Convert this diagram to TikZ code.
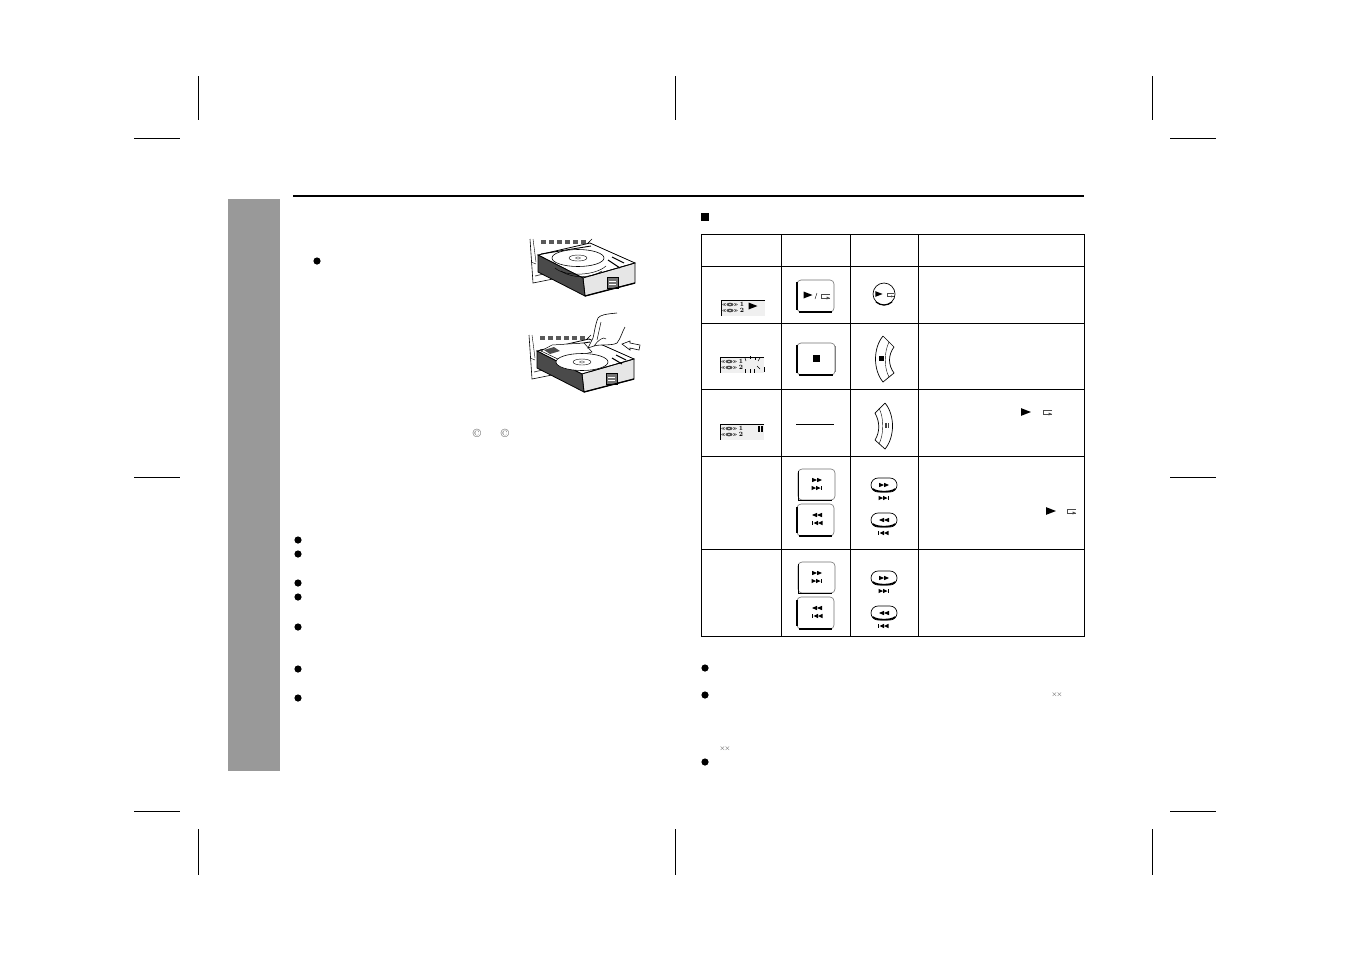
\documentclass[tikz,border=0pt]{standalone}
\usepackage{amsmath,amssymb}
\usepackage{tikz}
\usetikzlibrary{calc}

\definecolor{bandgray}{HTML}{999999}
\definecolor{lcdgray}{HTML}{F0F0F0}
\definecolor{trayfront}{HTML}{E6E6E6}
\definecolor{trayside}{HTML}{4A4A4A}

\tikzset{
  cropline/.style={line width=0.8pt},
  gridline/.style={line width=1pt},
  keyline/.style={line width=0.6pt,rounded corners=4pt,draw=black!55},
  lcdtext/.style={font=\bfseries\fontsize{6.5}{7}\selectfont,inner sep=0pt},
  marktext/.style={font=\fontsize{12}{12}\selectfont,inner sep=0pt,text=black!70},
  xxtext/.style={font=\fontsize{7.5}{8}\selectfont,inner sep=0pt,text=black!75},
  playtip/.pic={\fill (-4.5,-3.5) -- (4.5,0) -- (-4.5,3.5) -- cycle;},
  smalltip/.pic={\fill (-5,-2.2) -- (0,0) -- (-5,2.2) -- cycle;
    \fill (0,-2.2) -- (5,0) -- (0,2.2) -- cycle;},
  endtip/.pic={\fill (-5.5,-2.2) -- (-1,0) -- (-5.5,2.2) -- cycle;
    \fill (-1,-2.2) -- (3.5,0) -- (-1,2.2) -- cycle;
    \fill (3.8,-2.4) rectangle (5,2.4);},
  repeatmark/.pic={\draw[line width=0.5pt,black!70] (5,-2) -- (-4,-2) -- (-4,2) -- (5,2);
    \fill[black!70] (1.5,0.5) -- (5,2) -- (1.5,3.5) -- cycle;},
  lcdicon/.pic={\fill[black!70] (0,0) ellipse (3.5 and 1.8);
    \fill[white] (0,0) ellipse (1 and 0.5);
    \foreach \j in {-1,1} {
      \draw[line width=0.4pt,black!70] (\j*4,-1.2) -- (\j*6,0) -- (\j*4,1.2);
      \draw[line width=0.4pt,black!70] (\j*5.5,-1.2) -- (\j*7.5,0) -- (\j*5.5,1.2);
    }},
  cdtray/.pic={
    % unit behind the tray
    \draw[line width=0.6pt,fill=white] (530,239) -- (533,283) -- (553,279) -- (592,239);
    \draw[line width=0.4pt] (533,239) -- (536,262) (531,262) -- (536,264);
    \foreach \i in {0,...,5} {
      \fill[black!65] (541+\i*8,240) rectangle (546+\i*8,244);
    }
    \draw[line width=0.8pt,black!70] (535,276) -- (552,272);
    % tray
    \fill[white,draw=black,line width=0.8pt] (538,255) -- (590,243) -- (635,263) -- (583,278) -- cycle;
    \draw[line width=0.9pt] (541,254) -- (591,246);
    \fill[trayfront,draw=black,line width=0.8pt] (583,278) -- (635,263) -- (635,283) -- (585,296) -- cycle;
    \fill[trayside,draw=black,line width=0.8pt] (538,255) -- (583,278) -- (585,296) -- (538,272) -- cycle;
    \draw[fill=black!55,line width=0.4pt] (607,277) rectangle (618,288);
    \draw[line width=0.4pt,white] (609,281) -- (616,281) (609,284) -- (616,284);
    \draw[line width=0.5pt] (590,276) -- (632,264);
    \draw[line width=1.3pt] (585,296) -- (635,283);
  },
  disc/.pic={
    \draw[line width=0.6pt,fill=white] (0,0) ellipse (26 and 8.5);
    \draw[line width=0.4pt] (0,0) ellipse (9 and 3);
    \draw[line width=0.3pt] (0,0) ellipse (2.5 and 1);
  },
}

\begin{document}
\begin{tikzpicture}[x=1pt,y=-1pt]
  \useasboundingbox (0,0) rectangle (1351,954);
  \fill[white] (0,0) rectangle (1351,954);

  % crop marks
  \foreach \x in {198,675,1152} {
    \draw[cropline] (\x,76) -- (\x,120);
    \draw[cropline] (\x,829) -- (\x,875);
  }
  \foreach \y in {138,477,811} {
    \draw[cropline] (134,\y) -- (180,\y);
    \draw[cropline] (1170,\y) -- (1216,\y);
  }

  \fill[bandgray] (228,199) rectangle (280,771);
  \draw[line width=1.4pt] (293,196) -- (1084,196);
  \fill (701,213) rectangle (709,221);

  % bullets
  \foreach \x/\y in {317/261,298/540,298/554,298/583,298/597,298/627,298/669,298/698,705/668,705/695,705/762} {
    \fill (\x,\y) circle (3.6);
  }
  \node[marktext] (copyone) at (477,433) {\textcopyright};
  \node[marktext] (copytwo) at (505,433) {\textcopyright};
  \node[xxtext] (xxone) at (1057,695) {$\times\!\times$};
  \node[xxtext] (xxtwo) at (725,749) {$\times\!\times$};

  % tray pictures
  \pic at (0,0) {cdtray};
  \draw[line width=0.5pt] (555,268) .. controls (565,277) and (595,276) .. (606,266);
  \draw[line width=0.5pt] (561,271) .. controls (572,279) and (592,278) .. (602,271);
  \pic at (578,258) {disc};
  \draw[line width=1.1pt] (608,260) -- (620,268) (612,257) -- (624,263);
  \pic at (-1,96) {cdtray};
  \draw[line width=0.5pt,fill=white] (541,351) -- (552,345) -- (584,343) -- (592,352) -- (560,360) -- cycle;
  \fill[black!70] (544,350) -- (554,347) -- (560,351) -- (550,354) -- cycle;
  \pic at (582,362) {disc};
  \draw[line width=1.1pt] (612,358) -- (622,364) (616,355) -- (626,360);
  % hand
  \draw[line width=0.6pt,fill=white] (617,313) .. controls (606,314) and (600,315) .. (598,318)
    .. controls (595,325) and (594,335) .. (593,338) -- (588,348) -- (594,346)
    .. controls (600,344) and (612,346) .. (617,343) .. controls (621,338) and (622,332) .. (625,327);
  \draw[line width=0.5pt] (601,322) -- (597,340) (594,346) .. controls (598,340) and (604,336) .. (606,339);
  \draw[line width=0.6pt,fill=white] (622,344) -- (630,341) -- (630,343) -- (640,345) -- (639,350)
    -- (630,348) -- (630,350) -- cycle;

  % table
  \foreach \y in {234,266,323,389,456,549,636} {
    \draw[gridline] (701,\y) -- (1084.5,\y);
  }
  \foreach \x in {701,781,850,918,1084} {
    \draw[gridline] (\x,234) -- (\x,636);
  }

  % displays
  \foreach \x/\y/\name in {721/300/lcdplay,720/357/lcdstop,720/424/lcdpause} {
    \fill[lcdgray] (\x,\y) rectangle (\x+44,\y+16);
    \draw[line width=0.6pt] (\x+44,\y) -- (\x,\y) -- (\x,\y+16);
    \pic at (\x+9,\y+4.5) {lcdicon};
    \pic at (\x+9,\y+10.5) {lcdicon};
    \node[lcdtext] (\name one) at (\x+21,\y+4.5) {1};
    \node[lcdtext] (\name two) at (\x+21,\y+10.5) {2};
  }
  \pic at (753,306) {playtip};
  \foreach \a/\b/\c/\d in {745/358/746/361,750/356/750/359,755/357/755/360,760/358/758/361,757/366/760/369,745/369/745/373,750/369/750/373,754/369/754/373,764/367/764/372} {
    \draw[line width=0.5pt] (\a,\b) -- (\c,\d);
  }
  \fill (758,426) rectangle (760,432);
  \fill (761,426) rectangle (763,432);

  % front panel keys
  \draw[keyline] (797,280) rectangle (834,312);
  \draw[line width=1.3pt] (799,312) -- (832,312) (797,282) -- (797,310);
  \pic at (808,295) {playtip};
  \pic at (825,296) {repeatmark};
  \draw[line width=0.4pt] (815,299) -- (817,293);
  \draw[keyline] (797,343) rectangle (835,375);
  \draw[line width=1.3pt] (799,375) -- (833,375) (797,345) -- (797,373);
  \draw[line width=1pt,black!50] (835,346) -- (835,372);
  \fill (813,355) rectangle (820,362);
  \draw[line width=0.8pt] (796,424) -- (834,424);
  \foreach \dy in {0,93} {
    \draw[keyline] (798,469+\dy) rectangle (835,500+\dy);
    \draw[line width=1pt] (798,471+\dy) -- (798,500+\dy) -- (832,500+\dy);
    \pic at (817,480+\dy) {smalltip};
    \pic at (817,488+\dy) {endtip};
    \draw[keyline] (797,504+\dy) rectangle (834,536+\dy);
    \draw[line width=1.3pt] (799,536+\dy) -- (832,536+\dy) (797,507+\dy) -- (797,533+\dy);
    \pic[xscale=-1] at (817,515+\dy) {smalltip};
    \pic[xscale=-1] at (817,523+\dy) {endtip};
    % remote keys
    \draw[line width=0.7pt,rounded corners=7pt] (871,478+\dy) rectangle (897,492+\dy);
    \draw[line width=1.6pt,line cap=round] (873,489+\dy) .. controls (876,492.5+\dy) and (892,492.5+\dy) .. (895,489+\dy);
    \pic at (884,485+\dy) {smalltip};
    \pic at (884,498+\dy) {endtip};
    \draw[line width=0.7pt,rounded corners=7pt] (871,513+\dy) rectangle (897,527+\dy);
    \draw[line width=1.6pt,line cap=round] (873,524+\dy) .. controls (876,527.5+\dy) and (892,527.5+\dy) .. (895,524+\dy);
    \pic[xscale=-1] at (884,520+\dy) {smalltip};
    \pic[xscale=-1] at (883,533+\dy) {endtip};
  }

  % remote play key
  \draw[line width=0.7pt] (884,294) circle (11);
  \draw[line width=1.2pt] (876,302) .. controls (881,306) and (887,306) .. (892,302);
  \pic[scale=0.8] at (879,294) {playtip};
  \pic[scale=0.7] at (890,295) {repeatmark};
  % remote stop key
  \draw[line width=0.7pt] (883,336) -- (894,347) .. controls (888,355) and (888,365) .. (894,373)
    -- (883,382) .. controls (873,370) and (873,348) .. (883,336);
  \draw[line width=0.4pt] (889,342) .. controls (884,352) and (884,368) .. (889,377);
  \fill (879,356) rectangle (884,361);
  % remote pause key
  \draw[line width=0.7pt] (885,403) -- (875,413) .. controls (880,422) and (880,432) .. (875,440)
    -- (885,449) .. controls (895,437) and (895,415) .. (885,403);
  \draw[line width=0.4pt] (879,408) .. controls (884,418) and (884,434) .. (879,444);
  \fill[black!75] (885,423) rectangle (886.5,428);
  \fill[black!75] (887.5,423) rectangle (889,428);

  % marks in the text column
  \pic[scale=1.1] at (1026,412) {playtip};
  \pic at (1047,412) {repeatmark};
  \pic[scale=1.1] at (1051,511) {playtip};
  \pic at (1071,511) {repeatmark};
\end{tikzpicture}
\end{document}
